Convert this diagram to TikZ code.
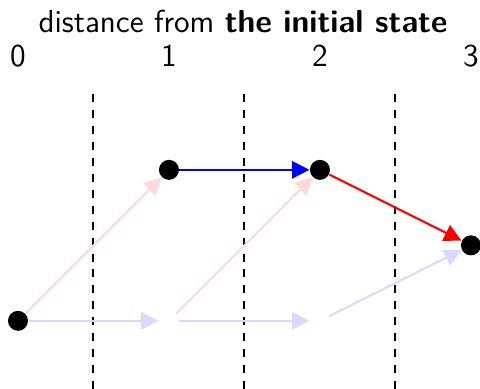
\documentclass[tikz,border=0pt]{standalone}
\usetikzlibrary{arrows.meta}
\renewcommand{\familydefault}{\sfdefault}
\begin{document}
\begin{tikzpicture}[
  dot/.style={circle,fill=black,minimum size=0.265cm,inner sep=0pt},
  ghost/.style={circle,minimum size=0.265cm,inner sep=0pt},
  arr/.style={-{Triangle[length=6.5pt,width=6.5pt]},line width=0.8pt},
  sep/.style={dashed,line width=0.75pt},
  lbl/.style={font=\large}
]
\useasboundingbox (-0.238,-0.9) rectangle (6.12,4.25);
\node[lbl] (title) at (2.98,3.97) {distance from \textbf{the initial state}};
\node[lbl] (n0) at (0,3.51) {0};
\node[lbl] (n1) at (2,3.51) {1};
\node[lbl] (n2) at (4,3.51) {2};
\node[lbl] (n3) at (6,3.51) {3};
\foreach \x/\n in {1/a,3/b,5/c} {
  \coordinate (t\n) at (\x,3.0);
  \coordinate (b\n) at (\x,-0.9);
  \draw[sep] (t\n) -- (b\n);
}
\node[dot] (s0) at (0,0) {};
\node[dot] (u1) at (2,2) {};
\node[dot] (u2) at (4,2) {};
\node[dot] (s3) at (6,1) {};
\node[ghost] (l1) at (2,0) {};
\node[ghost] (l2) at (4,0) {};
\draw[arr,red!15] (s0) -- (u1);
\draw[arr,red!15] (l1) -- (u2);
\draw[arr,blue!15] (s0) -- (l1);
\draw[arr,blue!15] (l1) -- (l2);
\draw[arr,blue!15] (l2) -- (s3);
\draw[arr,blue] (u1) -- (u2);
\draw[arr,red] (u2) -- (s3);
\end{tikzpicture}
\end{document}
